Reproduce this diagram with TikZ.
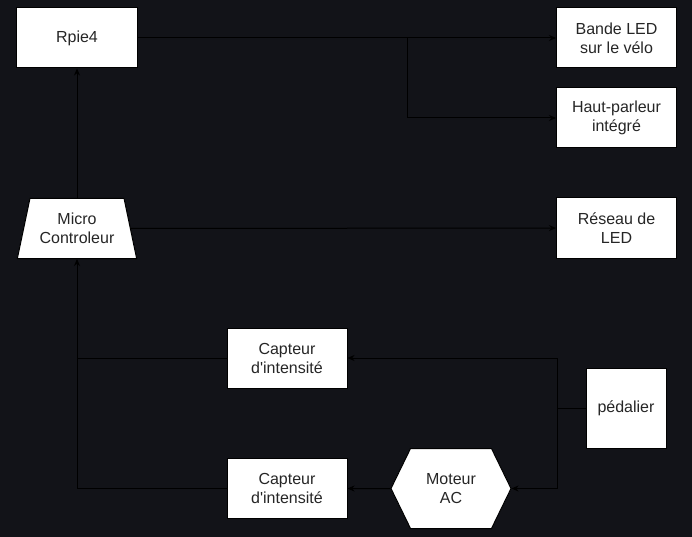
\documentclass[tikz,border=0pt]{standalone}
\usepackage{fontspec}
\setmainfont{Liberation Sans}
\usetikzlibrary{arrows.meta,positioning,shapes.geometric,shapes.symbols}
\definecolor{bgdark}{RGB}{18,19,24}
\begin{document}
\begin{tikzpicture}[node distance=100pt,on grid,line width=1pt,
    every node/.style={font=\fontsize{16}{19}\selectfont,align=center,fill=white,draw=black,text=black!85},
    blok/.style={rectangle,minimum width=120pt,minimum height=60pt,inner sep=2pt},
    mcubox/.style={trapezium,trapezium stretches=true,trapezium left angle=72,trapezium right angle=72,minimum width=120pt,minimum height=60pt,inner sep=0pt},
    motbox/.style={signal,signal to=west and east,signal pointer angle=128,minimum width=120pt,minimum height=80pt,inner sep=0pt},
    arr/.style={-{Stealth[length=7pt,width=6pt]}}]
        \fill[bgdark] (-77pt,38pt) rectangle (615pt,-499pt);
        \useasboundingbox (-77pt,38pt) rectangle (615pt,-499pt);
        \node[blok] (rpie) {Rpie4};
        \node[mcubox] (mcu) [below=190.5pt of rpie] {Micro\\Controleur};
        \node[blok] (bande) [right=539.5pt of rpie] {Bande LED\\sur le vélo};
        \node[blok] (haut) [below=80pt of bande] {Haut-parleur\\intégré};
        \node[blok] (reseau) [below=110pt of haut] {Réseau de\\LED};
        \node[blok] (cap_1) [below right=129.5pt and 210pt of mcu] {Capteur\\d\textquotesingle intensité};
        \node[blok] (cap_2) [below=130.5pt of cap_1] {Capteur\\d\textquotesingle intensité};
        \node[motbox] (mot) [right=164pt of cap_2] {Moteur\\AC};
        \node[blok,minimum width=80pt,minimum height=80pt] (ped) [above right=80.5pt and 175pt of mot] {pédalier};
        \coordinate[right=330pt of rpie] (split);
        \coordinate[left=69pt of ped] (jp);
         \path[arr]
         (mcu) edge (rpie)
             edge (reseau)
         (rpie) edge (bande)
         (mot) edge (cap_2);
         \draw[arr] (split) |- (haut);
         \draw (ped) -- (jp);
         \draw[arr] (jp) |- (cap_1);
         \draw[arr] (jp) |- (mot);
         \draw (cap_1) -- (cap_1 -| mcu);
         \draw[arr] (cap_2) -| (mcu);
      \end{tikzpicture}
\end{document}
